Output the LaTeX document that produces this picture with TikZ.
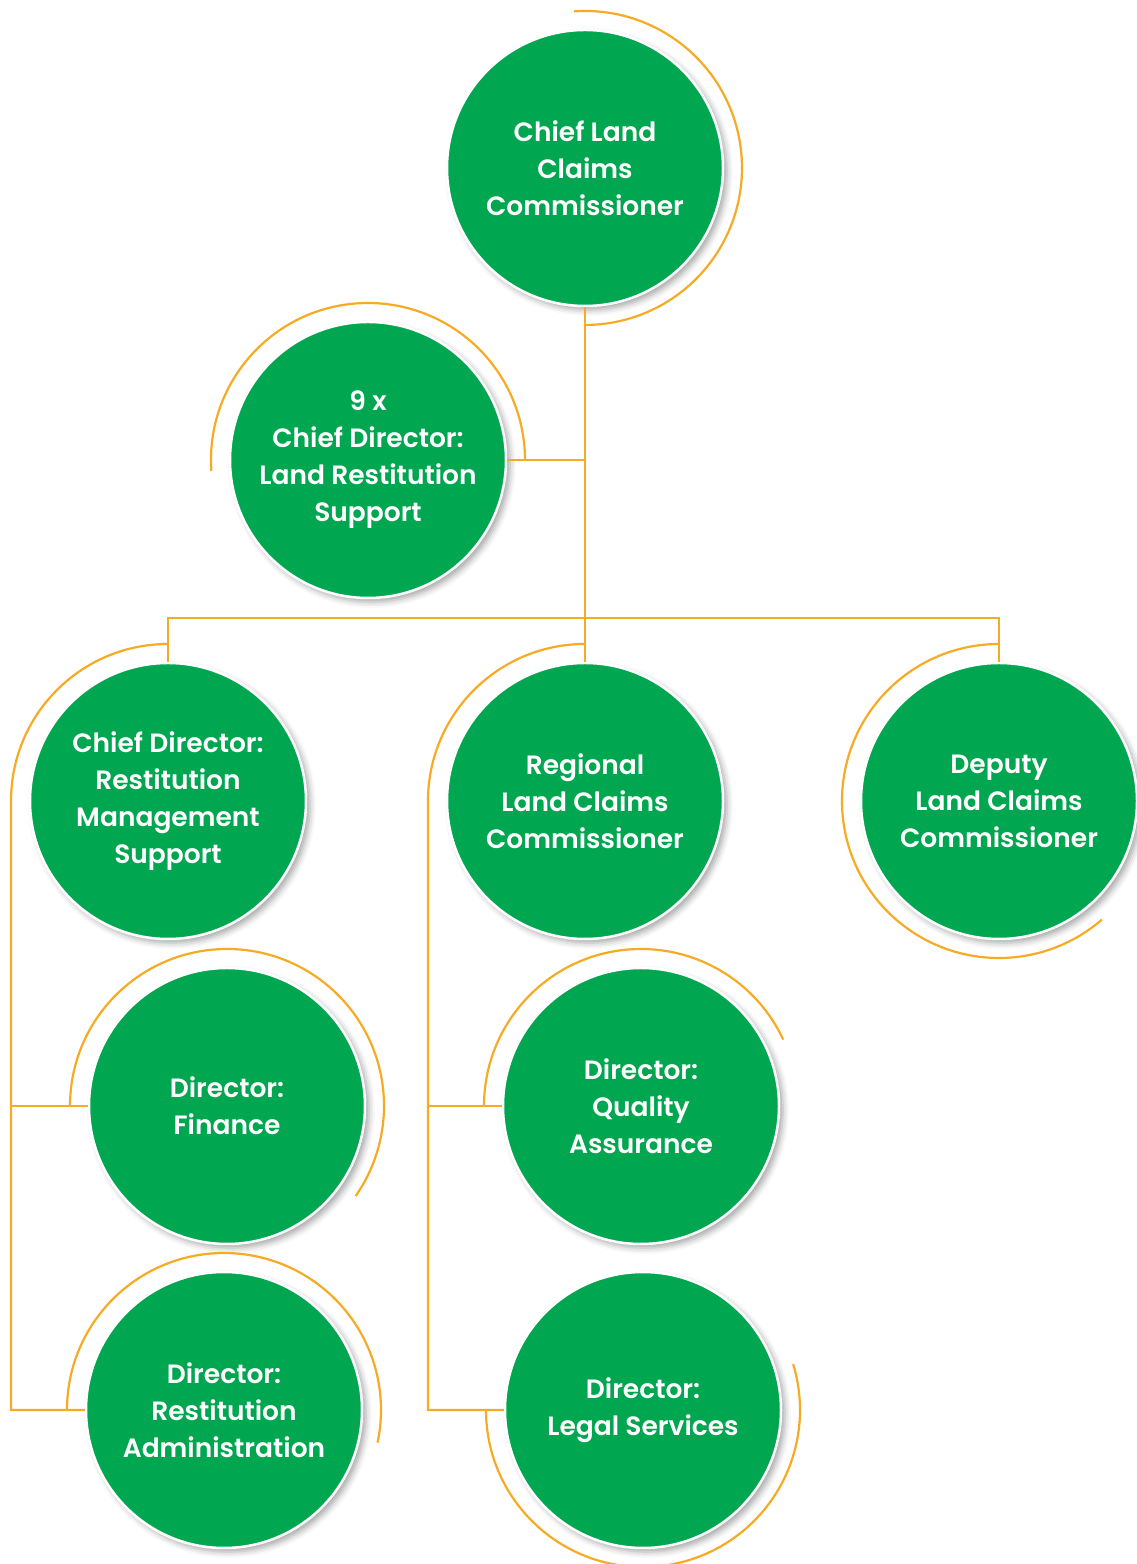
\documentclass[tikz,border=0pt]{standalone}
\usepackage{fontspec}
\setmainfont{Poppins}[BoldFont={Poppins SemiBold}]
\usetikzlibrary{calc, shadows.blur}
\definecolor{postgreen}{RGB}{0,166,80}
\definecolor{lineorange}{RGB}{247,170,36}

\begin{document}
\begin{tikzpicture}[x=1pt, y=1pt,
	post/.style={circle, draw=white, line width=2.5pt, fill=postgreen, minimum size=276pt, inner sep=0pt,
		align=center, text=white, font=\bfseries\fontsize{26.5}{37}\selectfont,
		blur shadow={shadow xshift=4pt, shadow yshift=-4pt, shadow blur radius=6pt, shadow opacity=35}},
	link/.style={draw=lineorange, line width=2.2pt},
	ring/.style={draw=lineorange, line width=2.2pt}]
	\useasboundingbox (0,0) rectangle (1137,1564);
	% posts
	\node[post] (root) at (585,1396) {Chief Land\\Claims\\Commissioner};
	\node[post] (nine) at (368,1104) {9 x\\Chief Director:\\Land Restitution\\Support};
	\node[post] (rms) at (168,763) {Chief Director:\\Restitution\\Management\\Support};
	\node[post] (reg) at (585,763) {Regional\\Land Claims\\Commissioner};
	\node[post] (dep) at (999,763) {Deputy\\Land Claims\\Commissioner};
	\node[post] (fin) at (227,458) {Director:\\Finance};
	\node[post] (qa) at (641,458) {Director:\\Quality\\Assurance};
	\node[post] (adm) at (224,154) {Director:\\Restitution\\Administration};
	\node[post] (leg) at (643,154) {Director:\\Legal Services};
	% connectors
	\coordinate (bar) at (585,946);
	\coordinate (ltrunk) at ($(rms.center)+(-157,0)$);
	\coordinate (mtrunk) at ($(reg.center)+(-157,0)$);
	\draw[link] (root) -- (reg);
	\draw[link] (nine.east) -- (nine.east -| root.south);
	\draw[link] (rms.north) |- (bar) -| (dep.north);
	\draw[link] ($(rms.center)+(0,157)$) arc[start angle=90, end angle=180, radius=157] -- (ltrunk |- adm.west) -- (adm.west);
	\draw[link] (ltrunk |- fin.west) -- (fin.west);
	\draw[link] ($(reg.center)+(0,157)$) arc[start angle=90, end angle=180, radius=157] -- (mtrunk |- leg.west) -- (leg.west);
	\draw[link] (mtrunk |- qa.west) -- (qa.west);
	% rings
	\draw[ring] ($(root.center)+(94:157)$) arc[start angle=94, end angle=-90, radius=157];
	\draw[ring] ($(nine.center)+(184:157)$) arc[start angle=184, end angle=0, radius=157];
	\draw[ring] ($(dep.center)+(90:157)$) arc[start angle=90, end angle=311, radius=157];
	\draw[ring] ($(fin.center)+(180:157)$) arc[start angle=180, end angle=-35, radius=157];
	\draw[ring] ($(qa.center)+(180:157)$) arc[start angle=180, end angle=25, radius=157];
	\draw[ring] ($(adm.center)+(180:157)$) arc[start angle=180, end angle=-12, radius=157];
	\draw[ring] ($(leg.center)+(180:157)$) arc[start angle=180, end angle=377, radius=157];
\end{tikzpicture}
\end{document}
